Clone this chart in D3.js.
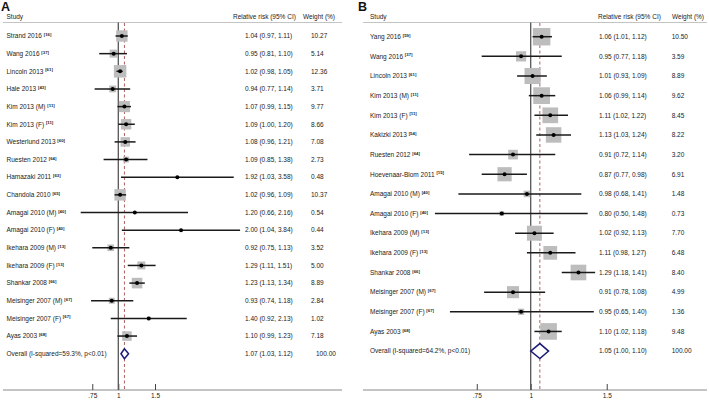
<!DOCTYPE html>
<html><head><meta charset="utf-8">
<script src="https://cdn.jsdelivr.net/npm/d3@7/dist/d3.min.js"></script>
<style>
html,body{margin:0;padding:0;background:#fff;}
svg{display:block;font-family:"Liberation Sans",Arial,sans-serif;}
</style></head>
<body>
<svg id="chart" width="709" height="400"></svg>
<script>
// ---------- Panel A data ----------
const aStudies = ["Strand 2016","Wang 2016","Lincoln 2013","Hale 2013","Kim 2013 (M)","Kim 2013 (F)","Westerlund 2013","Ruesten 2012","Hamazaki 2011","Chandola 2010","Amagai 2010 (M)","Amagai 2010 (F)","Ikehara 2009 (M)","Ikehara 2009 (F)","Shankar 2008","Meisinger 2007 (M)","Meisinger 2007 (F)","Ayas 2003"];
const aRefs = ["[16]","[37]","[61]","[43]","[11]","[11]","[60]","[64]","[63]","[65]","[40]","[40]","[13]","[13]","[66]","[67]","[67]","[68]"];
const aRR = [1.04,0.95,1.02,0.94,1.07,1.09,1.08,1.09,1.92,1.02,1.20,2.00,0.92,1.29,1.23,0.93,1.40,1.10];
const aLo = [0.97,0.81,0.98,0.77,0.99,1.00,0.96,0.85,1.03,0.96,0.66,1.04,0.75,1.11,1.13,0.74,0.92,0.99];
const aHi = [1.11,1.10,1.05,1.14,1.15,1.20,1.21,1.38,3.58,1.09,2.16,3.84,1.13,1.51,1.34,1.18,2.13,1.23];
const aWeight = [10.27,5.14,12.36,3.71,9.77,8.66,7.08,2.73,0.48,10.37,0.54,0.44,3.52,5.00,8.89,2.84,1.02,7.18];
const aCIText = ["1.04 (0.97, 1.11)","0.95 (0.81, 1.10)","1.02 (0.98, 1.05)","0.94 (0.77, 1.14)","1.07 (0.99, 1.15)","1.09 (1.00, 1.20)","1.08 (0.96, 1.21)","1.09 (0.85, 1.38)","1.92 (1.03, 3.58)","1.02 (0.96, 1.09)","1.20 (0.66, 2.16)","2.00 (1.04, 3.84)","0.92 (0.75, 1.13)","1.29 (1.11, 1.51)","1.23 (1.13, 1.34)","0.93 (0.74, 1.18)","1.40 (0.92, 2.13)","1.10 (0.99, 1.23)"];
const aWeightText = ["10.27","5.14","12.36","3.71","9.77","8.66","7.08","2.73","0.48","10.37","0.54","0.44","3.52","5.00","8.89","2.84","1.02","7.18"];
const aOverall = {label:"Overall (I-squared=59.3%, p<0.01)", rr:1.07, lo:1.03, hi:1.12, ci:"1.07 (1.03, 1.12)", w:"100.00"};

// ---------- Panel B data ----------
const bStudies = ["Yang 2016","Wang 2016","Lincoln 2013","Kim 2013 (M)","Kim 2013 (F)","Kakizki 2013","Ruesten 2012","Hoevenaar-Blom 2011","Amagai 2010 (M)","Amagai 2010 (F)","Ikehara 2009 (M)","Ikehara 2009 (F)","Shankar 2008","Meisinger 2007 (M)","Meisinger 2007 (F)","Ayas 2003"];
const bRefs = ["[59]","[37]","[61]","[11]","[11]","[54]","[64]","[15]","[40]","[40]","[13]","[13]","[66]","[67]","[67]","[68]"];
const bRR = [1.06,0.95,1.01,1.06,1.11,1.13,0.91,0.87,0.98,0.857,1.02,1.11,1.29,0.91,0.95,1.10];
const bLo = [1.01,0.77,0.93,0.99,1.02,1.03,0.72,0.77,0.68,0.60,0.92,0.98,1.18,0.78,0.65,1.02];
const bHi = [1.12,1.18,1.09,1.14,1.22,1.24,1.14,0.98,1.31,1.355,1.13,1.27,1.41,1.08,1.40,1.18];
const bWeight = [10.50,3.59,8.89,9.62,8.45,8.22,3.20,6.91,1.48,0.73,7.70,6.48,8.40,4.99,1.36,9.48];
const bCIText = ["1.06 (1.01, 1.12)","0.95 (0.77, 1.18)","1.01 (0.93, 1.09)","1.06 (0.99, 1.14)","1.11 (1.02, 1.22)","1.13 (1.03, 1.24)","0.91 (0.72, 1.14)","0.87 (0.77, 0.98)","0.98 (0.68, 1.41)","0.80 (0.50, 1.48)","1.02 (0.92, 1.13)","1.11 (0.98, 1.27)","1.29 (1.18, 1.41)","0.91 (0.78, 1.08)","0.95 (0.65, 1.40)","1.10 (1.02, 1.18)"];
const bWeightText = ["10.50","3.59","8.89","9.62","8.45","8.22","3.20","6.91","1.48","0.73","7.70","6.48","8.40","4.99","1.36","9.48"];
const bOverall = {label:"Overall (I-squared=64.2%, p<0.01)", rr:1.05, lo:1.00, hi:1.10, ci:"1.05 (1.00, 1.10)", w:"100.00"};

const tickValues = [0.75, 1, 1.5];
const tickLabels = [".75", "1", "1.5"];

const svg = d3.select("#chart");
const FS = 6.5;
const textCol = "#222";

function drawPanel(cfg, d) {
  const g = svg.append("g");
  const n = d.studies.length;
  const x = d3.scaleLog().domain([0.75, 1.5]).range(cfg.xr);
  const y = d3.scaleLinear().domain([0, n]).range([cfg.y0, cfg.y0 + n * cfg.step]);
  const side = d3.scaleSqrt().domain([0, 1]).range([0, cfg.k]);

  // panel letter
  g.append("text").attr("x", cfg.letterX).attr("y", 11).attr("font-size", 12.5)
    .attr("font-weight", "bold").attr("fill", "#111").text(cfg.letter);
  // headers
  g.append("text").attr("x", cfg.labelX).attr("y", 17).attr("dy", "0.35em")
    .attr("font-size", FS).attr("fill", textCol).text("Study");
  g.append("text").attr("x", cfg.hdrCIX).attr("y", 17).attr("dy", "0.35em")
    .attr("font-size", FS).attr("fill", textCol).text("Relative risk (95% CI)");
  g.append("text").attr("x", cfg.hdrWX).attr("y", 17).attr("dy", "0.35em")
    .attr("font-size", FS).attr("fill", textCol).text("Weight (%)");
  g.append("line").attr("x1", cfg.lineX[0]).attr("x2", cfg.lineX[1])
    .attr("y1", 22.5).attr("y2", 22.5).attr("stroke", "#c4c4c4").attr("stroke-width", 1);

  // axis
  const axisY = 390;
  g.append("line").attr("x1", cfg.lineX[0]).attr("x2", cfg.lineX[1])
    .attr("y1", axisY).attr("y2", axisY).attr("stroke", "#8a8a8a").attr("stroke-width", 1.2);
  const ax = d3.axisTop(x).tickValues(tickValues).tickSize(6)
    .tickFormat((v, i) => "");
  const axG = g.append("g").attr("transform", `translate(0,${axisY})`).call(ax);
  axG.select(".domain").remove();
  axG.selectAll(".tick line").attr("stroke", "#444").attr("stroke-width", 1);
  axG.selectAll(".tick").append("text").attr("y", 6).attr("dy", "0.35em")
    .attr("text-anchor", "middle").attr("font-size", FS).attr("fill", textCol)
    .text((v, i) => tickLabels[i]);

  // null line and overall dashed line
  g.append("line").attr("x1", x(1)).attr("x2", x(1)).attr("y1", 22.5).attr("y2", axisY)
    .attr("stroke", "#555").attr("stroke-width", 1.3);
  g.append("line").attr("x1", x(d.overall.rr)).attr("x2", x(d.overall.rr)).attr("y1", 23).attr("y2", axisY)
    .attr("stroke", "#b0605e").attr("stroke-width", 1).attr("stroke-dasharray", "3,2.5");

  const rows = d3.range(n);
  // squares
  g.selectAll("rect.box").data(rows).join("rect").attr("class", "box")
    .attr("x", i => x(d.rr[i]) - side(d.w[i]) / 2)
    .attr("y", i => y(i) - side(d.w[i]) / 2)
    .attr("width", i => side(d.w[i])).attr("height", i => side(d.w[i]))
    .attr("fill", "#bdbdbd");
  // CI lines
  g.selectAll("line.ci").data(rows).join("line").attr("class", "ci")
    .attr("x1", i => x(d.lo[i])).attr("x2", i => x(d.hi[i]))
    .attr("y1", i => y(i)).attr("y2", i => y(i))
    .attr("stroke", "#1a1a1a").attr("stroke-width", 1.5);
  // point
  g.selectAll("circle.pt").data(rows).join("circle").attr("class", "pt")
    .attr("cx", i => x(d.rr[i])).attr("cy", i => y(i)).attr("r", 2)
    .attr("fill", "#000");

  // overall diamond
  const oy = y(n);
  const h = cfg.diamondH / 2;
  g.append("path")
    .attr("d", `M${x(d.overall.lo)},${oy}L${x(d.overall.rr)},${oy - h}L${x(d.overall.hi)},${oy}L${x(d.overall.rr)},${oy + h}Z`)
    .attr("fill", "#fff").attr("stroke", "#1c1c78").attr("stroke-width", 1.5);

  // labels
  const lab = g.selectAll("text.lab").data(rows).join("text").attr("class", "lab")
    .attr("x", cfg.labelX).attr("y", i => y(i)).attr("dy", "0.35em")
    .attr("font-size", FS).attr("fill", textCol);
  lab.append("tspan").text(i => d.studies[i] + " ");
  lab.append("tspan").attr("font-size", 4.3).attr("font-weight", "bold").attr("dy", -2.2)
    .text(i => d.refs[i]);
  g.append("text").attr("x", cfg.labelX).attr("y", oy).attr("dy", "0.35em")
    .attr("font-size", FS).attr("fill", textCol).text(d.overall.label);

  g.selectAll("text.ci").data(rows).join("text").attr("class", "ci")
    .attr("x", cfg.ciX).attr("y", i => y(i)).attr("dy", "0.35em")
    .attr("font-size", FS).attr("fill", textCol).text(i => d.ciText[i]);
  g.append("text").attr("x", cfg.ciX).attr("y", oy).attr("dy", "0.35em")
    .attr("font-size", FS).attr("fill", textCol).text(d.overall.ci);

  g.selectAll("text.wt").data(rows).join("text").attr("class", "wt")
    .attr("x", cfg.wX).attr("y", i => y(i)).attr("dy", "0.35em")
    .attr("font-size", FS).attr("fill", textCol).text(i => d.wText[i]);
  g.append("text").attr("x", cfg.wX + cfg.overallWOff).attr("y", oy).attr("dy", "0.35em")
    .attr("font-size", FS).attr("fill", textCol).text(d.overall.w);
}

drawPanel({letter: "A", letterX: 1, labelX: 6.5, hdrCIX: 233, hdrWX: 303, ciX: 245, wX: 311, overallWOff: 5,
  lineX: [3, 342], xr: [92.27, 155.0], y0: 36, step: 17.65, k: 3.55, diamondH: 10},
  {studies: aStudies, refs: aRefs, rr: aRR, lo: aLo, hi: aHi, w: aWeight, ciText: aCIText, wText: aWeightText, overall: aOverall});

drawPanel({letter: "B", letterX: 358, labelX: 370, hdrCIX: 598, hdrWX: 672, ciX: 599, wX: 671.7, overallWOff: 0,
  lineX: [363, 707], xr: [476.76, 606.73], y0: 36.7, step: 19.65, k: 5.4, diamondH: 15},
  {studies: bStudies, refs: bRefs, rr: bRR, lo: bLo, hi: bHi, w: bWeight, ciText: bCIText, wText: bWeightText, overall: bOverall});
</script>
</body></html>
